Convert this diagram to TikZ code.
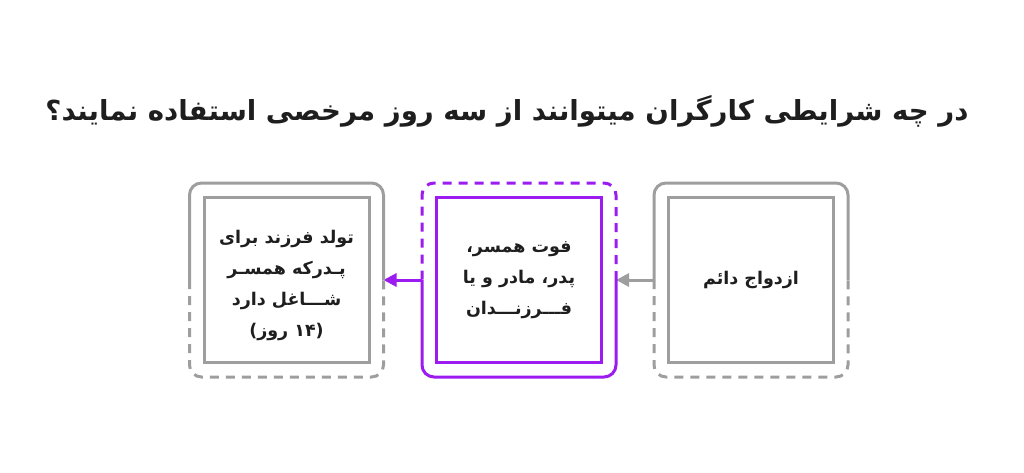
\documentclass[tikz,border=0pt]{standalone}
\usepackage{fontspec}
\usetikzlibrary{positioning,arrows.meta}
\TeXXeTstate=1
\newfontfamily\farsifont[Script=Arabic]{DejaVu Sans}
\newfontfamily\plainsans{DejaVu Sans}
\newcommand{\fatext}[1]{\beginR #1\endR}
\definecolor{framegray}{RGB}{158,158,158}
\definecolor{stepviolet}{RGB}{155,27,240}
\definecolor{inkdark}{RGB}{30,30,30}
\tikzstyle{boxtext} = [align=center, text=inkdark, font=\farsifont\bfseries\fontsize{17.5}{31}\selectfont]
\tikzstyle{innerbox} = [boxtext, draw, line width=3pt, minimum size=165pt, inner sep=0pt]
\tikzstyle{outerbox} = [minimum size=194pt, inner sep=0pt, outer sep=0pt]
\tikzstyle{edge} = [line width=3pt, rounded corners=12pt]
\tikzstyle{dashededge} = [edge, dash pattern=on 9pt off 7pt]
\tikzstyle{arrow} = [line width=3pt, -{Triangle[length=13pt,width=13pt]}]

\begin{document}
\begin{tikzpicture}[x=1pt,y=-1pt]
\useasboundingbox (0,0) rectangle (1024,473);

\node[text=inkdark, font=\farsifont\bfseries\fontsize{27.6}{34}\selectfont] (title) at (507,111)
  {\fatext{در چه شرایطی کارگران میتوانند از سه روز مرخصی استفاده نمایند؟}};

% frames
\node[outerbox] (marriageframe) at (751,280) {};
\node[outerbox] (deathframe) at (519,280) {};
\node[outerbox] (birthframe) at (286.5,280) {};

% inner squares
\node[innerbox, draw=framegray] (marriage) at (marriageframe.center) {\fatext{ازدواج دائم}};
\node[innerbox, draw=stepviolet] (death) at (deathframe.center)
  {\fatext{فوت همسر،}\\\fatext{پدر، مادر و یا}\\\fatext{فـــرزنـــدان}};
\node[innerbox, draw=framegray] (birth) at (birthframe.center) {};
\node[boxtext] (birthtext) at ([yshift=-5pt]birth.center)
  {\fatext{تولد فرزند برای}\\\fatext{پـدرکه همسـر}\\\fatext{شـــاغل دارد}\\{\plainsans\bfseries(}روز {\plainsans\bfseries ۱۴)}};

% right frame
\draw[edge, framegray] (marriageframe.east) |- (marriageframe.north) -| (marriageframe.west);
\draw[dashededge, framegray] (marriageframe.west) |- (marriageframe.south) -| (marriageframe.east);
\draw[arrow, framegray] (marriageframe.west) -- (deathframe.east);

% middle frame
\draw[dashededge, stepviolet] (deathframe.east) |- (deathframe.north) -| (deathframe.west);
\draw[edge, stepviolet] (deathframe.west) |- (deathframe.south) -| (deathframe.east);
\draw[arrow, stepviolet] (deathframe.west) -- (birthframe.east);

% left frame
\draw[edge, framegray] (birthframe.east) |- (birthframe.north) -| (birthframe.west);
\draw[dashededge, framegray] (birthframe.west) |- (birthframe.south) -| (birthframe.east);
\end{tikzpicture}
\end{document}
